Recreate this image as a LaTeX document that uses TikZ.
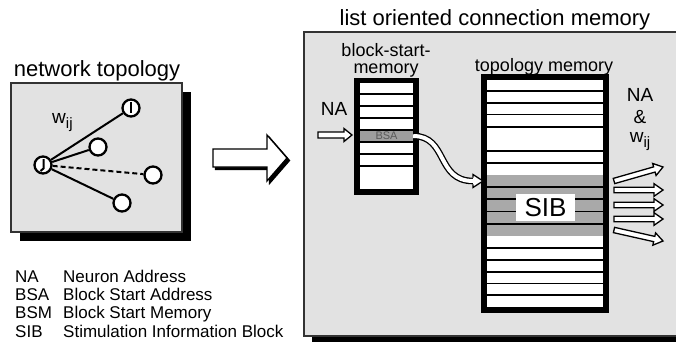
\documentclass[tikz,border=0pt]{standalone}
\usepackage{fontspec}
\setmainfont{Liberation Sans}
\usetikzlibrary{calc}
\definecolor{panel}{HTML}{E2E2E2}
\definecolor{rowgray}{HTML}{A9A9A9}
\definecolor{bsagray}{HTML}{9E9E9E}
\newcommand\fs[1]{\fontsize{#1}{#1}\selectfont}

% block arrow: tail, tip, half shaft width, half head width, head length, style
\newcommand\hollowarrow[6]{%
  \draw[#6] let \p1=($(#2)-(#1)$), \n1={atan2(\y1,\x1)}, \n2={veclen(\x1,\y1)-#5} in
    ($(#1)+(\n1+90:#3pt)$) -- ($(#1)+(\n1:\n2)+(\n1+90:#3pt)$)
    -- ($(#1)+(\n1:\n2)+(\n1+90:#4pt)$) -- (#2)
    -- ($(#1)+(\n1:\n2)+(\n1-90:#4pt)$) -- ($(#1)+(\n1:\n2)+(\n1-90:#3pt)$)
    -- ($(#1)+(\n1-90:#3pt)$) -- cycle;}

\tikzset{
  panelbox/.style={fill=panel, draw=black!80, line width=1.2pt},
  shadowbox/.style={fill=black},
  neuron/.style={circle, draw, fill=white, line width=2.3pt, minimum size=17pt, inner sep=0pt},
  synapse/.style={line width=2pt},
  membox/.style={draw, line width=3.8pt, inner sep=0pt},
  rowline/.style={line width=1.4pt},
  hollow/.style={fill=white, draw=black, line width=1.3pt, line join=miter},
  shade/.style={fill=black, draw=black, line width=1.3pt},
  lbl/.style={inner sep=0pt, anchor=base},
}

\begin{document}
\begin{tikzpicture}[x=1pt, y=-1pt]
\useasboundingbox (0,0) rectangle (676,342);

% ---------- network topology panel ----------
\fill[shadowbox] (20,92) rectangle (191,241);
\draw[panelbox] (11,83) rectangle (182,232);
\node[lbl, font=\fs{22}] (nettitle) at (97,77) {network topology};

\node[neuron] (nj) at (43,165) {};
\node[neuron] (ni) at (131,108) {};
\node[neuron] (n2) at (98,147) {};
\node[neuron] (n3) at (153,175) {};
\node[neuron] (n4) at (122,203) {};
\draw[synapse] (nj) -- (ni);
\draw[synapse] (nj) -- (n2);
\draw[synapse, dash pattern=on 5pt off 3pt] (nj) -- (n3);
\draw[synapse] (nj) -- (n4);
\draw[line width=2pt] ($(ni)+(0,-6)$) -- ($(ni)+(0,5)$);
\draw[line width=2pt] ($(nj)+(0.5,-6)$) -- ($(nj)+(0.5,3.5)$) -- ($(nj)+(-2.5,6)$);
\node[lbl, anchor=base west, font=\fs{19}] (wlab) at (52,123)
  {w\raisebox{-0.3em}{\fs{15}ij}};

% ---------- legend ----------
\begin{scope}[every node/.style={lbl, anchor=base west, font=\fs{17}}]
  \node (k1) at (15,282) {NA};  \node (d1) at (63,282) {Neuron Address};
  \node (k2) at (15,300) {BSA}; \node (d2) at (63,300) {Block Start Address};
  \node (k3) at (15,318) {BSM}; \node (d3) at (63,318) {Block Start Memory};
  \node (k4) at (15,337) {SIB}; \node (d4) at (63,337) {Stimulation Information Block};
\end{scope}

% ---------- transition arrow ----------
\coordinate (bt) at (213,158);
\coordinate (bh) at (287,158);
\coordinate (bts) at (215.5,160.5);
\coordinate (bhs) at (289.5,160.5);
\hollowarrow{bts}{bhs}{9}{23}{20}{shade}
\hollowarrow{bt}{bh}{9}{23}{20}{hollow}

% ---------- connection memory panel ----------
\fill[shadowbox] (312,40) rectangle (690,345);
\draw[panelbox] (304,32) rectangle (690,336);
\node[lbl, font=\fs{22}] (memtitle) at (495,26) {list oriented connection memory};

% block-start memory
\node[lbl, font=\fs{18}] (bsmt1) at (386,57) {block-start-};
\node[lbl, font=\fs{18}] (bsmt2) at (386,73.5) {memory};
\node[membox, fill=white, minimum width=57pt, minimum height=109.5pt] (bsm) at (386.5,136.25) {};
\node[fill=bsagray, minimum width=53pt, minimum height=12pt, inner sep=0pt,
      font=\fs{11}, text=black!65] (bsa) at (386.5,136) {BSA};
\foreach \y in {94,106,118,130,142,154,166}
  \draw[rowline] (360,\y) -- (413,\y);
\draw[line width=3.8pt] (bsm.north west) rectangle (bsm.south east);

% topology memory
\node[lbl, font=\fs{18}] (tpmt) at (544,72) {topology memory};
\node[membox, fill=white, minimum width=120pt, minimum height=231pt] (tpm) at (545,193.5) {};
\fill[rowgray] (487,175) rectangle (603,236);
\foreach \y in {91,103,114.5,127,151,163,187,199,211.5,224,248,260,272,283.5,295}
  \draw[rowline] (487,\y) -- (603,\y);
\draw[line width=3.8pt] (tpm.north west) rectangle (tpm.south east);
\node[fill=white, minimum width=59pt, minimum height=27pt, inner sep=0pt, font=\fs{26}] (sib) at (545.5,207.5) {SIB};

% neuron address input
\node[lbl, font=\fs{19}] (na) at (334,115) {NA};
\coordinate (nat) at (318,135);
\coordinate (nah) at (352,135);
\hollowarrow{nat}{nah}{3}{6.5}{8}{hollow}

% BSA points into the topology memory
\coordinate (cb) at (473,181);
\coordinate (ct) at (483,181);
\draw[line width=1.3pt, double=white, double distance=4pt]
  (bsa.east) .. controls (448,136) and (436,181) .. (cb);
\filldraw[fill=white, line width=1.3pt, line join=miter]
  ($(cb)+(0,-3.3)$) -- ($(cb)+(0,-6.5)$) -- (ct) -- ($(cb)+(0,6.5)$) -- ($(cb)+(0,3.3)$);

% outputs
\node[lbl, font=\fs{19}] (ona) at (640,102) {NA};
\node[lbl, font=\fs{19}] (oamp) at (640,123) {\&};
\node[lbl, font=\fs{19}] (ow) at (640,142) {w\raisebox{-0.3em}{\fs{15}ij}};
\foreach \i/\ya/\yb in {1/181/167, 2/190/190, 3/205/205, 4/219/219, 5/230/241} {
  \coordinate (ot\i) at (614,\ya);
  \coordinate (oh\i) at (663,\yb);
  \hollowarrow{ot\i}{oh\i}{2.7}{6.3}{9}{hollow}
}
\end{tikzpicture}
\end{document}
